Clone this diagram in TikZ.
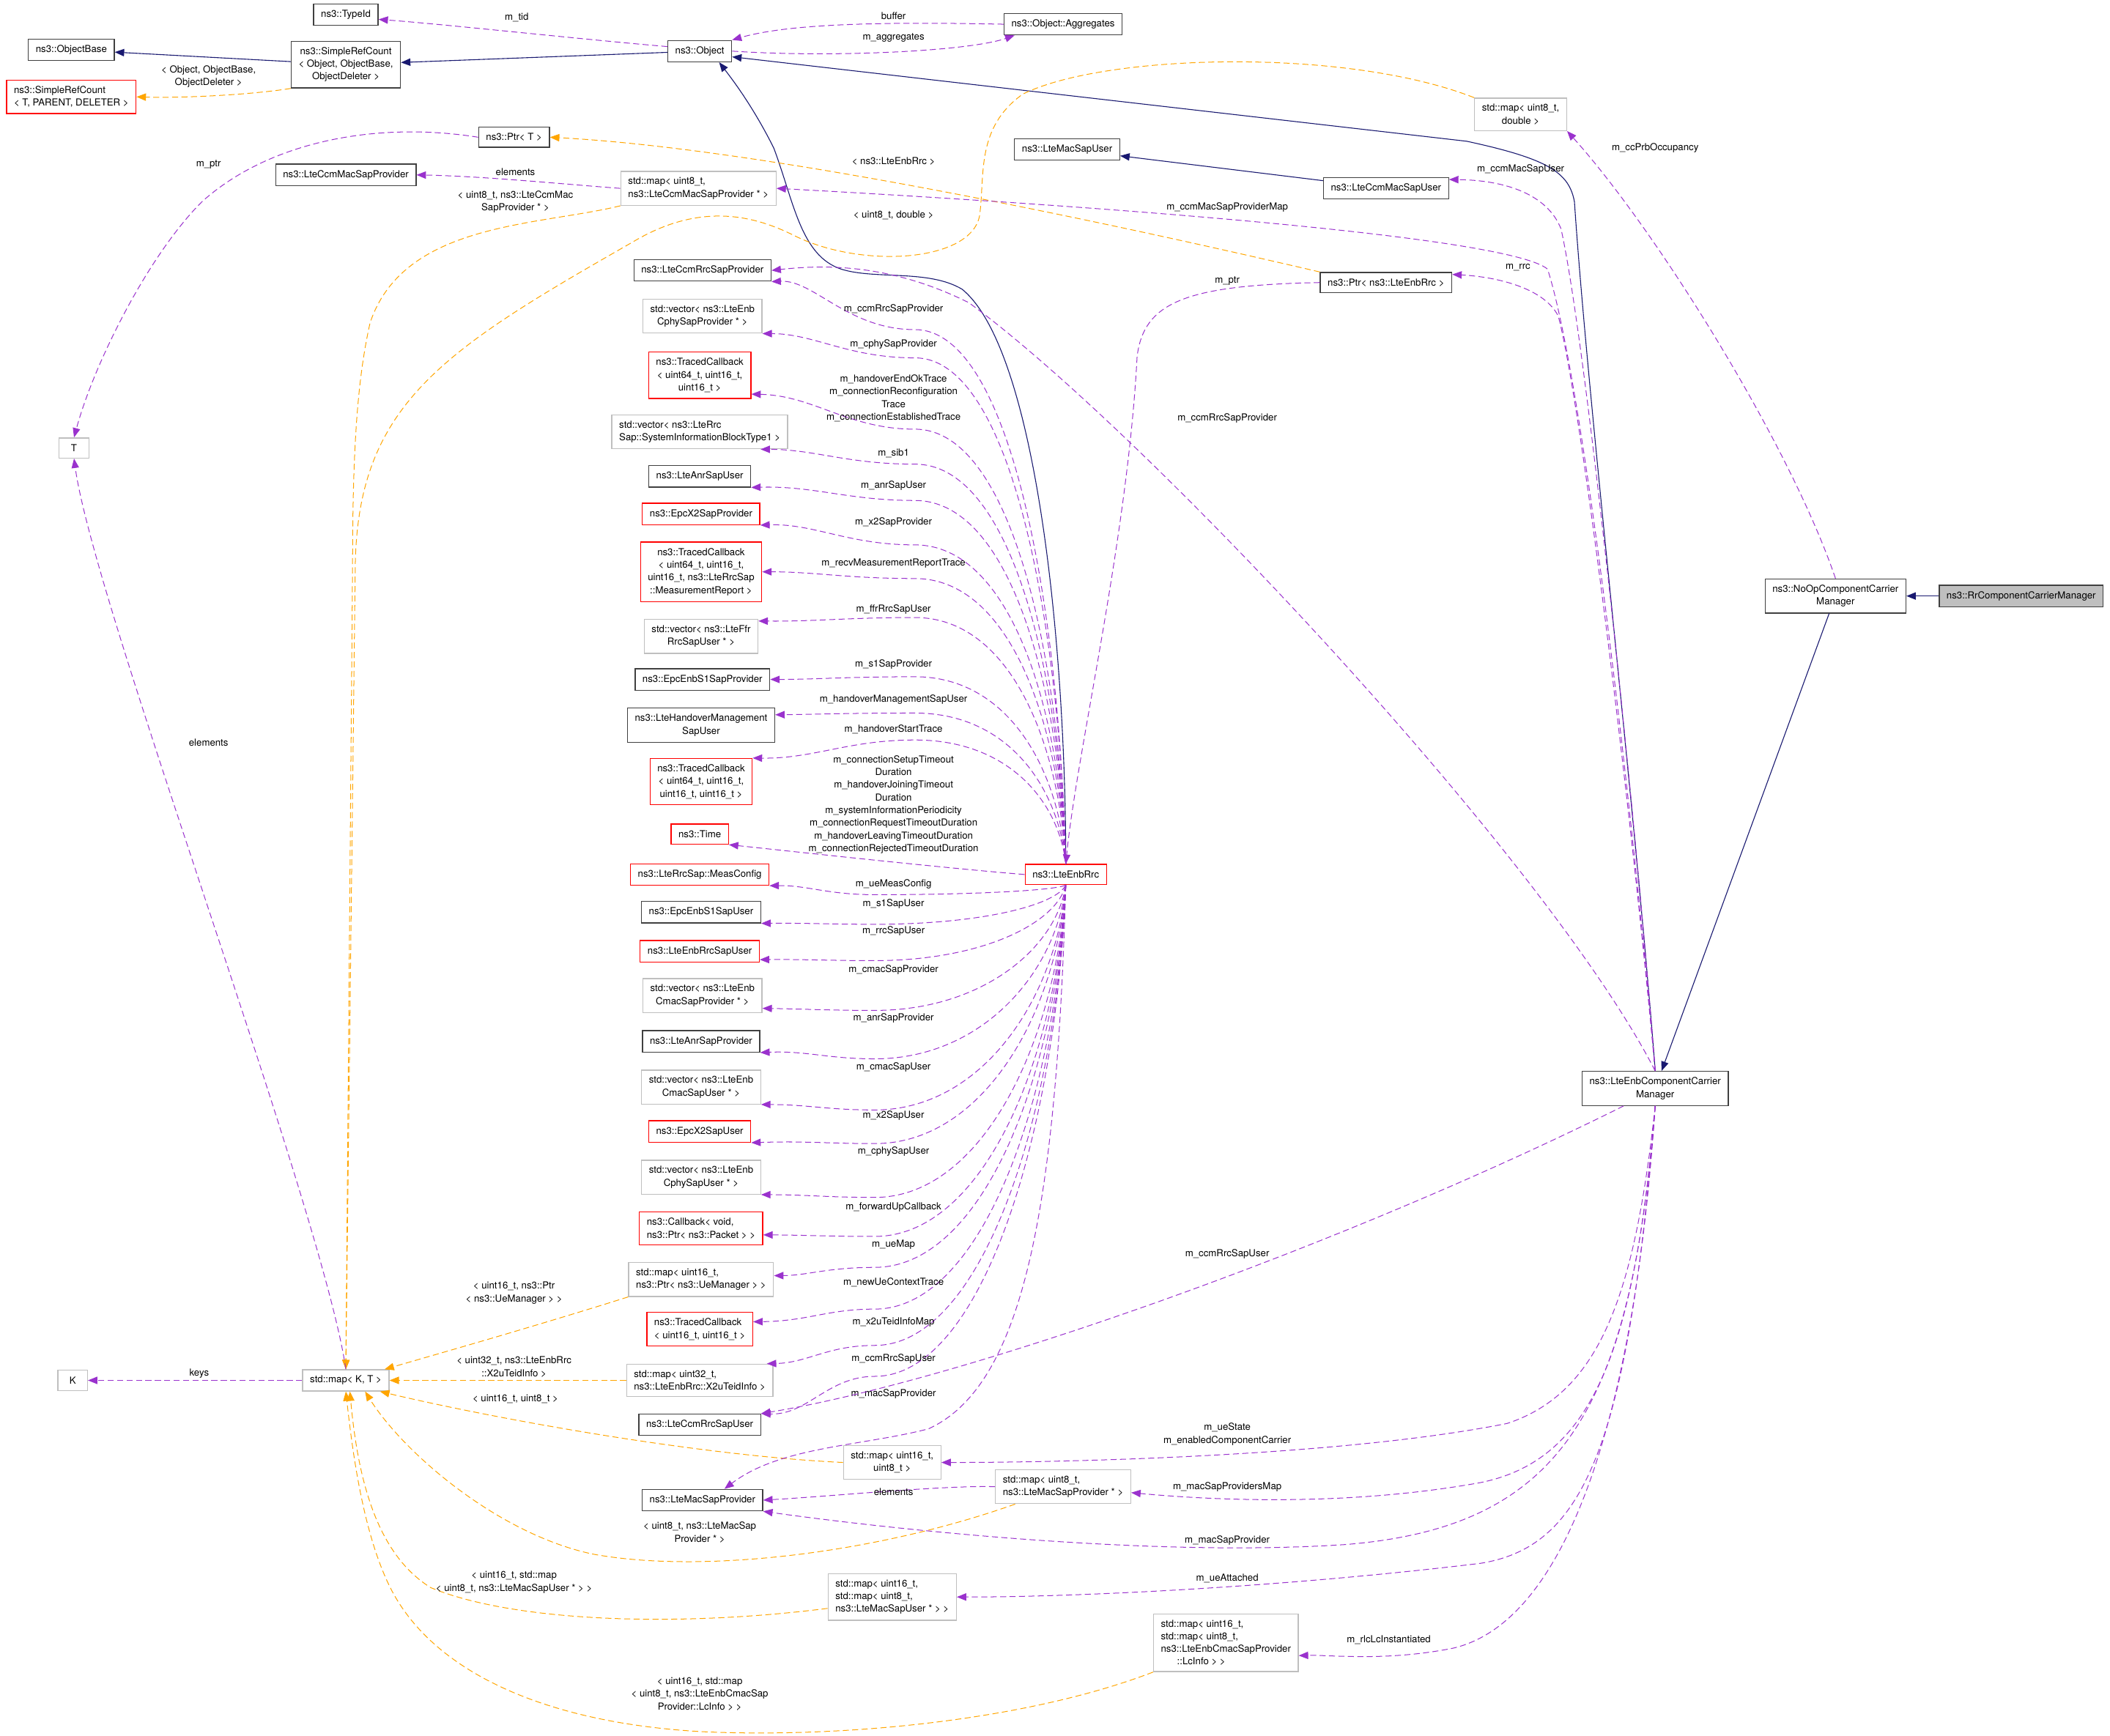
\documentclass[tikz,border=0pt]{standalone}
\usepackage{fontspec}
\setmainfont{TeX Gyre Heros}
\usetikzlibrary{arrows.meta}

\definecolor{memberpurple}{HTML}{9A32CD}
\definecolor{instorange}{HTML}{FFA500}
\definecolor{inhblue}{HTML}{191970}
\definecolor{boxgrey}{HTML}{404040}
\definecolor{lightgrey}{HTML}{BFBFBF}

\begin{document}
\begin{tikzpicture}[
        x=1pt, y=-1pt,
        box/.style={draw, line width=0.7pt, font=\fontsize{7.2}{9.4}\selectfont,
            inner xsep=5.5pt, inner ysep=4.5pt, minimum height=15pt, align=center},
        cls/.style={box, draw=boxgrey},
        undoc/.style={box, draw=red},
        tmpl/.style={box, draw=lightgrey},
        root/.style={box, draw=boxgrey, fill=lightgrey},
        lbl/.style={font=\fontsize{7.2}{9.4}\selectfont, inner sep=0pt, align=center},
        member/.style={draw=memberpurple, line width=0.55pt, dash pattern=on 4.5pt off 2.5pt,
            -{Triangle[length=7pt,width=5.5pt]}},
        inst/.style={member, draw=instorange},
        inh/.style={draw=inhblue, line width=0.6pt, -{Triangle[length=7pt,width=5.5pt]}}
    ]
    \useasboundingbox (0,0) rectangle (1568,1290);

    % top row
    \node[cls] (typeid) at (257,11) {ns3::TypeId};
    \node[cls] (objbase) at (53,37) {ns3::ObjectBase};
    \node[cls] (src) at (257,48) {ns3::SimpleRefCount\\< Object, ObjectBase,\\ObjectDeleter >};
    \node[undoc, align=left] (srct) at (53,72) {ns3::SimpleRefCount\\< T, PARENT, DELETER >};
    \node[cls] (obj) at (520,38) {ns3::Object};
    \node[cls] (agg) at (790,18) {ns3::Object::Aggregates};
    \node[tmpl] (map8d) at (1130,85) {std::map< uint8\_t,\\double >};
    \node[cls] (ptrt) at (382,102) {ns3::Ptr< T >};
    \node[cls] (lccmp) at (257,130) {ns3::LteCcmMacSapProvider};
    \node[tmpl, align=left] (mcmsp) at (519,140) {std::map< uint8\_t,\\ns3::LteCcmMacSapProvider * >};
    \node[cls] (lmacu) at (793,111) {ns3::LteMacSapUser};
    \node[cls] (lccmu) at (1030,140) {ns3::LteCcmMacSapUser};
    \node[cls] (prrc) at (1030,210) {ns3::Ptr< ns3::LteEnbRrc >};
    \node[tmpl, minimum width=22pt] (tt) at (55,333) {T};

    % members of LteEnbRrc
    \node[cls] (ccmrrcp) at (522,201) {ns3::LteCcmRrcSapProvider};
    \node[tmpl] (vcphyp) at (522,235) {std::vector< ns3::LteEnb\\CphySapProvider * >};
    \node[undoc] (tcb3) at (520,279) {ns3::TracedCallback\\< uint64\_t, uint16\_t,\\uint16\_t >};
    \node[tmpl, align=left] (vsib) at (520,321) {std::vector< ns3::LteRrc\\Sap::SystemInformationBlockType1 >};
    \node[cls] (anru) at (520,354) {ns3::LteAnrSapUser};
    \node[undoc] (x2p) at (521,382) {ns3::EpcX2SapProvider};
    \node[undoc] (tcbmr) at (521,425) {ns3::TracedCallback\\< uint64\_t, uint16\_t,\\uint16\_t, ns3::LteRrcSap\\::MeasurementReport >};
    \node[tmpl] (vffr) at (521,473) {std::vector< ns3::LteFfr\\RrcSapUser * >};
    \node[cls] (s1p) at (522,505) {ns3::EpcEnbS1SapProvider};
    \node[cls] (hmsu) at (521,539) {ns3::LteHandoverManagement\\SapUser};
    \node[undoc] (tcb4) at (521,581) {ns3::TracedCallback\\< uint64\_t, uint16\_t,\\uint16\_t, uint16\_t >};
    \node[undoc] (time) at (520,620) {ns3::Time};
    \node[undoc] (measc) at (520,650) {ns3::LteRrcSap::MeasConfig};
    \node[cls] (s1u) at (521,678) {ns3::EpcEnbS1SapUser};
    \node[undoc] (rrcsu) at (520,707) {ns3::LteEnbRrcSapUser};
    \node[tmpl] (vcmacp) at (522,740) {std::vector< ns3::LteEnb\\CmacSapProvider * >};
    \node[cls] (anrp) at (521,774) {ns3::LteAnrSapProvider};
    \node[tmpl] (vcmacu) at (521,808) {std::vector< ns3::LteEnb\\CmacSapUser * >};
    \node[undoc] (x2u) at (520,841) {ns3::EpcX2SapUser};
    \node[tmpl] (vcphyu) at (521,875) {std::vector< ns3::LteEnb\\CphySapUser * >};
    \node[undoc, align=left] (cbpkt) at (521,913) {ns3::Callback< void,\\ns3::Ptr< ns3::Packet > >};
    \node[tmpl, align=left] (uemap) at (521,951) {std::map< uint16\_t,\\ns3::Ptr< ns3::UeManager > >};
    \node[undoc, align=left] (tcb2) at (520,988) {ns3::TracedCallback\\< uint16\_t, uint16\_t >};
    \node[tmpl, align=left] (x2map) at (520,1026) {std::map< uint32\_t,\\ns3::LteEnbRrc::X2uTeidInfo >};
    \node[cls] (ccmrrcu) at (520,1059) {ns3::LteCcmRrcSapUser};
    \node[cls] (macp) at (522,1115) {ns3::LteMacSapProvider};
    \node[undoc] (rrc) at (792,650) {ns3::LteEnbRrc};

    % members of LteEnbComponentCarrierManager
    \node[tmpl] (m168) at (663,1087) {std::map< uint16\_t,\\uint8\_t >};
    \node[tmpl, align=left] (mmacp) at (790,1105) {std::map< uint8\_t,\\ns3::LteMacSapProvider * >};
    \node[tmpl, align=left] (m16m) at (663,1187) {std::map< uint16\_t,\\std::map< uint8\_t,\\ns3::LteMacSapUser * > >};
    \node[tmpl, align=left] (mlc) at (911,1221) {std::map< uint16\_t,\\std::map< uint8\_t,\\ns3::LteEnbCmacSapProvider\\\hspace*{12pt}::LcInfo > >};
    \node[tmpl, minimum width=22pt] (kk) at (54,1026) {K};
    \node[tmpl] (mapkt) at (257,1026) {std::map< K, T >};

    % right side
    \node[cls] (noop) at (1364,443) {ns3::NoOpComponentCarrier\\Manager};
    \node[root] (rr) at (1502,443) {ns3::RrComponentCarrierManager};
    \node[cls] (lecc) at (1230,809) {ns3::LteEnbComponentCarrier\\Manager};

    % inheritance
    \draw[inh] (src) -- (objbase);
    \draw[inh] (obj) -- (src);
    \draw[inh] (lccmu) -- (lmacu);
    \draw[inh] (rr) -- (noop);
    \draw[inh] (noop) -- (lecc);
    \draw[inh] (rrc.north) .. controls (792,480) and (770,260) .. (715,215)
        .. controls (690,200) and (650,208) .. (625,200)
        .. controls (595,190) and (590,150) .. (575,110)
        .. controls (560,80) and (545,60) .. (obj.-30);
    \draw[inh] (lecc.north) .. controls (1215,600) and (1180,300) .. (1170,150)
        .. controls (1166,128) and (1150,118) .. (1090,105) -- (obj.-10);

    % top members
    \draw[member] (obj.172) .. controls (440,30) and (330,18) .. (typeid.-8);
    \node[lbl] (ltid) at (384,13) {m\_tid};
    \draw[member] (agg.west) .. controls (650,16) and (585,18) .. (obj.north east);
    \node[lbl] (lbuf) at (664,12) {buffer};
    \draw[member] (obj.east) .. controls (620,43) and (720,38) .. (agg.-167);
    \node[lbl] (laggr) at (664,28) {m\_aggregates};
    \draw[inst] (src.south west) .. controls (190,70) and (140,73) .. (srct.east);
    \node[lbl] (lsrc) at (155,57) {< Object, ObjectBase,\\ObjectDeleter >};
    \draw[member] (ptrt.west) .. controls (280,90) and (200,105) .. (150,150)
        .. controls (110,190) and (70,270) .. (tt.north);
    \node[lbl] (lptrt) at (155,122) {m\_ptr};
    \draw[member] (mcmsp.west) .. controls (420,137) and (360,131) .. (lccmp.east);
    \node[lbl] (lelem1) at (383,128) {elements};
    \draw[inst] (prrc.north west) .. controls (800,160) and (560,110) .. (ptrt.east);
    \node[lbl] (lprrc) at (664,120) {< ns3::LteEnbRrc >};
    \draw[member] (prrc.west) .. controls (880,212) and (850,225) .. (845,265)
        .. controls (838,400) and (800,560) .. (rrc.north);
    \node[lbl] (lmptr) at (912,209) {m\_ptr};
    \draw[member] (noop.north) .. controls (1330,330) and (1230,170) .. (map8d.south east);
    \node[lbl] (lprb) at (1230,110) {m\_ccPrbOccupancy};

    % template instances of std::map
    \draw[inst] (map8d.north west) .. controls (1000,35) and (820,40) .. (760,70)
        .. controls (725,95) and (732,130) .. (728,160)
        .. controls (722,195) and (640,200) .. (590,175)
        .. controls (560,160) and (520,150) .. (470,180)
        .. controls (330,260) and (266,300) .. (264,420) -- (mapkt.north);
    \node[lbl] (lm8d) at (664,160) {< uint8\_t, double >};
    \draw[inst] (mcmsp.south west) .. controls (400,168) and (300,165) .. (275,240)
        .. controls (266,280) and (262,330) .. (262,420) -- (mapkt.north);
    \node[lbl] (lmcmsp) at (383,150) {< uint8\_t, ns3::LteCcmMac\\SapProvider * >};
    \draw[inst] (uemap.south west) .. controls (400,985) and (330,1005) .. (mapkt.16);
    \node[lbl] (luemap) at (382,961) {< uint16\_t, ns3::Ptr\\< ns3::UeManager > >};
    \draw[inst] (x2map) -- (mapkt);
    \node[lbl] (lx2map) at (382,1016) {< uint32\_t, ns3::LteEnbRrc\\::X2uTeidInfo >};
    \draw[inst] (m168.west) .. controls (520,1082) and (370,1055) .. (mapkt.-18);
    \node[lbl] (lm168) at (383,1040) {< uint16\_t, uint8\_t >};
    \draw[inst] (mmacp.-160) .. controls (650,1155) and (520,1170) .. (440,1155)
        .. controls (370,1140) and (300,1080) .. (mapkt.-30);
    \node[lbl] (lmmacp) at (520,1139) {< uint8\_t, ns3::LteMacSap\\Provider * >};
    \draw[inst] (m16m.-170) .. controls (500,1210) and (380,1205) .. (320,1180)
        .. controls (280,1155) and (266,1100) .. (mapkt.-70);
    \node[lbl] (lm16m) at (382,1176) {< uint16\_t, std::map\\< uint8\_t, ns3::LteMacSapUser * > >};
    \draw[inst] (mlc.south west) .. controls (760,1280) and (620,1292) .. (520,1287)
        .. controls (400,1280) and (320,1240) .. (290,1180)
        .. controls (270,1140) and (262,1080) .. (mapkt.south);
    \node[lbl] (lmlc) at (520,1259) {< uint16\_t, std::map\\< uint8\_t, ns3::LteEnbCmacSap\\Provider::LcInfo > >};
    \draw[member] (mapkt.north) .. controls (240,900) and (70,450) .. (tt.south);
    \node[lbl] (lelem2) at (155,552) {elements};
    \draw[member] (mapkt) -- (kk);
    \node[lbl] (lkeys) at (148,1021) {keys};
    \draw[member] (mmacp.west) .. controls (700,1104) and (620,1112) .. (macp.east);
    \node[lbl] (lelem3) at (664,1109) {elements};

    % LteEnbRrc members above
    \foreach \tgt/\ye/\my/\ly/\lab [count=\i] in {
            ccmrrcp.south east/208/245/230/m\_ccmRrcSapProvider,
            vcphyp.south east/248/266/256/m\_cphySapProvider,
            tcb3.-20/294/319/296/{m\_handoverEndOkTrace\\m\_connectionReconfiguration\\Trace\\m\_connectionEstablishedTrace},
            vsib.-16/334/345/337/m\_sib1,
            anru.south east/361/372/361/m\_anrSapUser,
            x2p.south east/389/405/388/m\_x2SapProvider,
            tcbmr.east/425/430/419/m\_recvMeasurementReportTrace,
            vffr.15/462/459/453/m\_ffrRrcSapUser,
            s1p.east/505/503/494/m\_s1SapProvider,
            hmsu.8/531/530/520/m\_handoverManagementSapUser,
            tcb4.north east/564/550/542/m\_handoverStartTrace} {
        \draw[member] (rrc.north) .. controls (787,{643-0.5*(643-\my)}) and (750,\my) .. (680,\my)
            .. controls (630,\my) and (605,\ye) .. (\tgt);
        \node[lbl] (lu\i) at (664,\ly) {\lab};
    }
    \draw[member] (rrc.west) .. controls (700,645) and (600,634) .. (time.south east);
    \node[lbl] (ltime) at (664,598) {m\_connectionSetupTimeout\\Duration\\m\_handoverJoiningTimeout\\Duration\\m\_systemInformationPeriodicity\\m\_connectionRequestTimeoutDuration\\m\_handoverLeavingTimeoutDuration\\m\_connectionRejectedTimeoutDuration};

    % LteEnbRrc members below
    \foreach \tgt/\ye/\my/\ly/\lab [count=\i] in {
            measc.south east/658/665/657/m\_ueMeasConfig,
            s1u.south east/686/687/672/m\_s1SapUser,
            rrcsu.-8/713/714/692/m\_rrcSapUser,
            vcmacp.-12/750/751/721/m\_cmacSapProvider,
            anrp.south east/781/787/757/m\_anrSapProvider,
            vcmacu.south east/821/825/793/m\_cmacSapUser,
            x2u.south east/848/850/829/m\_x2SapUser,
            vcphyu.south east/888/890/856/m\_cphySapUser,
            cbpkt.-6/918/919/897/m\_forwardUpCallback,
            uemap.3/948/942/925/m\_ueMap,
            tcb2.8/982/973/953/m\_newUeContextTrace,
            x2map.14/1013/1000/983/m\_x2uTeidInfoMap,
            ccmrrcu.north east/1052/1023/1010/m\_ccmRrcSapUser} {
        \draw[member] (rrc.south) .. controls (785,{658+0.5*(\my-658)}) and (730,\my) .. (650,\my)
            .. controls (615,\my) and (600,\ye) .. (\tgt);
        \node[lbl] (ld\i) at (664,\ly) {\lab};
    }
    \draw[member] (rrc.south) .. controls (785,900) and (760,1030) .. (690,1062)
        .. controls (640,1075) and (580,1075) .. (macp.27);
    \node[lbl] (lmacp) at (664,1036) {m\_macSapProvider};

    % LteEnbComponentCarrierManager members
    \draw[member] (lecc.north) .. controls (1215,600) and (1178,250) .. (1160,170)
        .. controls (1150,145) and (1120,134) .. (lccmu.8);
    \node[lbl] (lccmu-l) at (1130,126) {m\_ccmMacSapUser};
    \draw[member] (lecc.north) .. controls (1213,600) and (1176,280) .. (1150,200)
        .. controls (1120,175) and (800,152) .. (mcmsp.east);
    \node[lbl] (lmcmsp-l) at (912,154) {m\_ccmMacSapProviderMap};
    \draw[member] (lecc.north) .. controls (1212,600) and (1175,300) .. (1158,235)
        .. controls (1148,215) and (1115,206) .. (prrc.7);
    \node[lbl] (lrrc) at (1128,199) {m\_rrc};
    \draw[member] (lecc.north) .. controls (1150,640) and (850,320) .. (720,225)
        .. controls (660,195) and (610,197) .. (ccmrrcp.east);
    \node[lbl] (lccmrrcp) at (912,311) {m\_ccmRrcSapProvider};
    \draw[member] (lecc.-151) .. controls (1000,925) and (720,1025) .. (ccmrrcu.north east);
    \node[lbl] (lccmrrcu) at (912,932) {m\_ccmRrcSapUser};
    \draw[member] (lecc.south) .. controls (1215,960) and (1190,1035) .. (1120,1058)
        .. controls (1000,1082) and (800,1087) .. (m168.east);
    \node[lbl] (lm168-l) at (912,1066) {m\_ueState\\m\_enabledComponentCarrier};
    \draw[member] (lecc.south) .. controls (1215,1000) and (1185,1085) .. (1100,1102)
        .. controls (1000,1120) and (900,1115) .. (mmacp.-5);
    \node[lbl] (lmmacp-l) at (912,1105) {m\_macSapProvidersMap};
    \draw[member] (lecc.south) .. controls (1212,1050) and (1160,1135) .. (1000,1148)
        .. controls (850,1158) and (650,1135) .. (macp.south east);
    \node[lbl] (lmacp-l) at (912,1145) {m\_macSapProvider};
    \draw[member] (lecc.south) .. controls (1210,1080) and (1175,1150) .. (1100,1162)
        .. controls (950,1180) and (800,1187) .. (m16m.east);
    \node[lbl] (lm16m-l) at (912,1173) {m\_ueAttached};
    \draw[member] (lecc.south) .. controls (1215,1050) and (1165,1205) .. (1080,1225)
        .. controls (1030,1235) and (990,1230) .. (mlc.-10);
    \node[lbl] (lmlc-l) at (1032,1219) {m\_rlcLcInstantiated};
\end{tikzpicture}
\end{document}
